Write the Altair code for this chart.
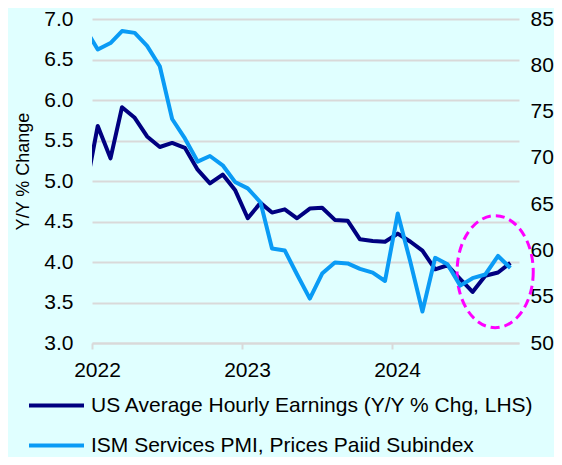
import altair as alt
import pandas as pd

S1 = "US Average Hourly Earnings (Y/Y % Chg, LHS)"
S2 = "ISM Services PMI, Prices Paiid Subindex"

months = ["2021/12/15"] + [f"{y}/{m:02d}/15" for y in (2022, 2023, 2024) for m in range(1, 13)][:34]

ahe = [4.85, 5.68, 5.28, 5.91, 5.78, 5.55, 5.42, 5.47, 5.41, 5.14, 4.97, 5.08,
       4.89, 4.54, 4.73, 4.61, 4.65, 4.54, 4.66, 4.67, 4.52, 4.51, 4.28, 4.26,
       4.25, 4.35, 4.25, 4.14, 3.91, 3.96, 3.79, 3.63, 3.83, 3.87, 3.99]
ism = [84.0, 81.7, 82.4, 83.7, 83.5, 82.1, 79.9, 74.2, 72.1, 69.6, 70.2, 69.2,
       67.4, 66.7, 65.2, 60.2, 60.0, 57.4, 54.8, 57.5, 58.7, 58.6, 58.0, 57.6,
       56.7, 64.0, 58.7, 53.4, 59.2, 58.5, 56.2, 57.0, 57.4, 59.4, 58.1]

left_ticks = [3.0, 3.5, 4.0, 4.5, 5.0, 5.5, 6.0, 6.5, 7.0]
right_ticks = [50, 55, 60, 65, 70, 75, 80, 85]
year_ticks = [2022, 2023, 2024]

ellipse_date = ["2024/09/08"]
ellipse_val = [3.88]

df = pd.DataFrame({"date": months, "ahe": ahe, "ism": ism,
                   "s1": [S1] * len(months), "s2": [S2] * len(months)})
edf = pd.DataFrame({"date": ellipse_date, "val": ellipse_val})

NAVY = "#000080"
BLUE = "#0A9BF5"
GRID = "#D9D9D9"
FONT = "Liberation Sans"

x_enc = alt.X(
    "date:T",
    scale=alt.Scale(domain=[alt.DateTime(year=2022, month=1, date=1),
                            alt.DateTime(year=2024, month=11, date=5)]),
    axis=alt.Axis(
        values=[alt.DateTime(year=y, month=1, date=1) for y in year_ticks],
        format="%Y", title=None, grid=False, labelFlush=False,
        labelOverlap=False,
        domainColor=GRID, domainWidth=2, tickColor=GRID, tickWidth=2,
        tickSize=6, labelPadding=10, labelOffset=5,
    ),
)

left_scale = alt.Scale(domain=[3, 7], nice=False, zero=False)
left_axis = alt.Axis(values=left_ticks, format=".1f", title="Y/Y % Change",
                     grid=True, gridColor=GRID, gridWidth=2, ticks=False,
                     domain=False, labelPadding=19, titlePadding=11,
                     titleY=152, titleFontSize=18)
y_left = alt.Y("ahe:Q", scale=left_scale, axis=left_axis)
y_ell = alt.Y("val:Q", scale=left_scale, axis=left_axis)
y_right = alt.Y(
    "ism:Q", scale=alt.Scale(domain=[50, 85], nice=False, zero=False),
    axis=alt.Axis(values=right_ticks, orient="right", title=None, grid=False,
                  ticks=False, domain=False, labelPadding=11),
)

color_scale = alt.Scale(domain=[S1, S2], range=[NAVY, BLUE])
legend = alt.Legend(
    orient="none", legendX=-65, legendY=357, direction="vertical",
    symbolType="stroke", symbolSize=3025, symbolStrokeWidth=4,
    labelFontSize=21, labelLimit=800, labelOffset=5, rowPadding=-25,
    padding=0, labelColor="#000000",
)

dark = alt.Chart(df).mark_line(strokeWidth=4, clip=True, strokeJoin="round").encode(
    x=x_enc, y=y_left,
    color=alt.Color("s1:N", scale=color_scale, legend=legend, title=None),
)

ell_path = ("M 0.68 0 C 0.68 0.5523 0.3756 1 0 1 C -0.3756 1 -0.68 0.5523 -0.68 0 "
            "C -0.68 -0.5523 -0.3756 -1 0 -1 C 0.3756 -1 0.68 -0.5523 0.68 0 Z")
ellipse = alt.Chart(edf).mark_point(
    shape=ell_path, size=12544, filled=False, color="#FF00FF",
    strokeWidth=3, strokeDash=[9, 5], opacity=1,
).encode(x=x_enc, y=y_ell)

light = alt.Chart(df).mark_line(strokeWidth=4, clip=True, strokeJoin="round").encode(
    x=x_enc, y=y_right,
    color=alt.Color("s2:N", scale=color_scale, legend=legend, title=None),
)

left_layer = alt.layer(dark, ellipse)
chart = alt.layer(left_layer, light).resolve_scale(y="independent").properties(
    width=427, height=324,
    padding={"left": 84, "top": 11, "right": 35, "bottom": 114},
    autosize=alt.AutoSizeParams(type="none"),
    background="#E0FFFF",
).configure_view(stroke=None).configure_axis(
    labelFont=FONT, titleFont=FONT,
    labelFontSize=21, titleFontSize=18, labelColor="#000000",
    titleColor="#000000", titleFontWeight="normal",
).configure_legend(labelFont=FONT)

chart.save("out.html", embed_options={"renderer": "svg", "actions": False})
